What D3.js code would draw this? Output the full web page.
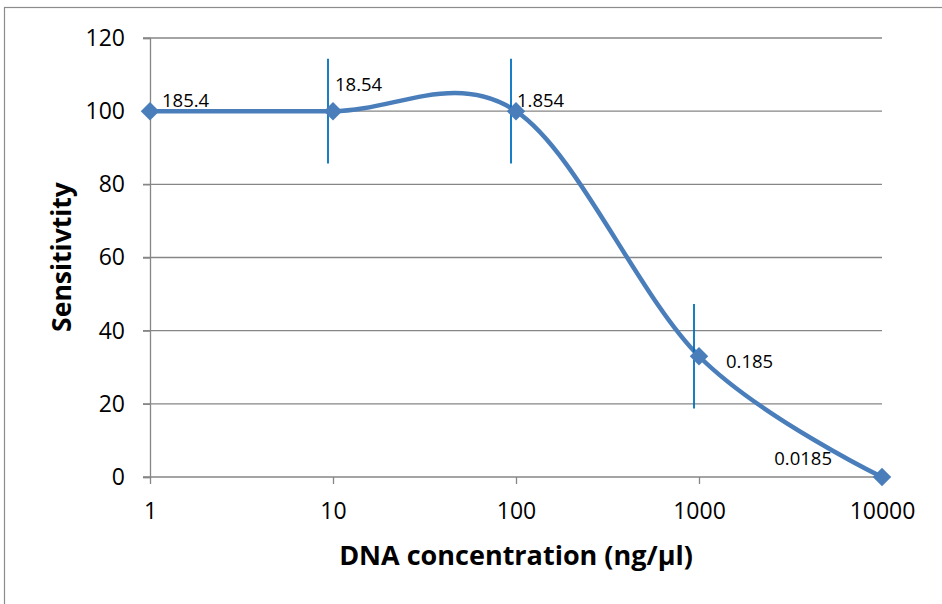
<!DOCTYPE html>
<html>
<head>
<meta charset="utf-8">
<script src="https://cdn.jsdelivr.net/npm/d3@7"></script>
<style>
  body { margin: 0; background: #fff; }
  svg text { font-family: "Open Sans", "Noto Sans", sans-serif; fill: #000; }
</style>
</head>
<body>
<svg id="chart"></svg>
<script>
const width = 942;
const height = 604;

// data
const concentrations = [1, 10, 100, 1000, 10000];
const sensitivity = [100, 100, 100, 33, 0];
const errors = [0, 14.3, 14.3, 14.3, 0];
const pointLabels = ["185.4", "18.54", "1.854", "0.185", "0.0185"];
const yTicks = [0, 20, 40, 60, 80, 100, 120];
const xTicks = [1, 10, 100, 1000, 10000];

// where each data label sits relative to its point
const labelOffsets = [[12, -4, "start"], [2, -20, "start"], [1, -4, "start"], [27, 12, "start"], [-50, -12, "end"]];

const svg = d3.select("#chart").attr("width", width).attr("height", height);

// chart area border
svg.append("rect")
   .attr("x", 4.5).attr("y", 7.5)
   .attr("width", 960).attr("height", 620)
   .attr("fill", "none").attr("stroke", "#8c8c8c").attr("stroke-width", 1.2);

const x = d3.scaleLog().domain([1, 10000]).range([150, 882]);
const y = d3.scaleLinear().domain([0, 120]).range([477, 38]);

// gridlines
svg.append("g")
   .selectAll("line")
   .data(yTicks)
   .enter()
   .append("line")
   .attr("x1", 143).attr("x2", 882)
   .attr("y1", d => y(d)).attr("y2", d => y(d))
   .attr("stroke", "#868686").attr("stroke-width", 1.3);

// y axis
const yAxis = d3.axisLeft(y).tickValues(yTicks).tickSize(7).tickPadding(18);
svg.append("g")
   .attr("transform", "translate(150,0)")
   .call(yAxis)
   .call(g => g.select(".domain").attr("stroke", "#868686").attr("stroke-width", 1.3))
   .call(g => g.selectAll(".tick line").attr("stroke", "#868686").attr("stroke-width", 1.3))
   .call(g => g.selectAll(".tick text").attr("font-size", 23).attr("font-family", "Open Sans"));

// x axis
const xAxis = d3.axisBottom(x).tickValues(xTicks).tickFormat(d3.format("d")).tickSize(7).tickPadding(19);
svg.append("g")
   .attr("transform", "translate(0,477)")
   .call(xAxis)
   .call(g => g.select(".domain").remove())
   .call(g => g.selectAll(".tick line").attr("stroke", "#868686").attr("stroke-width", 1.3))
   .call(g => g.selectAll(".tick text").attr("font-size", 23).attr("font-family", "Open Sans"));

const points = concentrations.map((c, i) => ({ c: c, v: sensitivity[i], e: errors[i], label: pointLabels[i], off: labelOffsets[i] }));

// smoothed line, Excel style
const line = d3.line()
               .x(d => x(d.c))
               .y(d => y(d.v))
               .curve(d3.curveCardinal.tension(0));

svg.append("path")
   .datum(points)
   .attr("d", line)
   .attr("fill", "none")
   .attr("stroke", "#4a7ebb")
   .attr("stroke-width", 4.5);

// error bars (sit a little left of the markers in the original)
svg.append("g")
   .selectAll("line")
   .data(points.filter(d => d.e > 0))
   .enter()
   .append("line")
   .attr("x1", d => x(d.c) - 5).attr("x2", d => x(d.c) - 5)
   .attr("y1", d => y(d.v + d.e)).attr("y2", d => y(d.v - d.e))
   .attr("stroke", "#0070c0").attr("stroke-width", 1.8);

// diamond markers
svg.append("g")
   .selectAll("path")
   .data(points)
   .enter()
   .append("path")
   .attr("d", d3.symbol(d3.symbolSquare, 170))
   .attr("transform", d => `translate(${x(d.c)},${y(d.v)}) rotate(45)`)
   .attr("fill", "#4a7ebb");

// data labels
svg.append("g")
   .selectAll("text")
   .data(points)
   .enter()
   .append("text")
   .attr("x", d => x(d.c) + d.off[0])
   .attr("y", d => y(d.v) + d.off[1])
   .attr("text-anchor", d => d.off[2])
   .attr("font-size", 18.5)
   .text(d => d.label);

// axis titles
svg.append("text")
   .attr("x", 516).attr("y", 565)
   .attr("text-anchor", "middle")
   .attr("font-size", 27).attr("font-weight", "bold")
   .text("DNA concentration (ng/µl)");

svg.append("text")
   .attr("transform", "translate(71,257) rotate(-90)")
   .attr("text-anchor", "middle")
   .attr("font-size", 26.5).attr("font-weight", "bold")
   .text("Sensitivtity");
</script>
</body>
</html>
